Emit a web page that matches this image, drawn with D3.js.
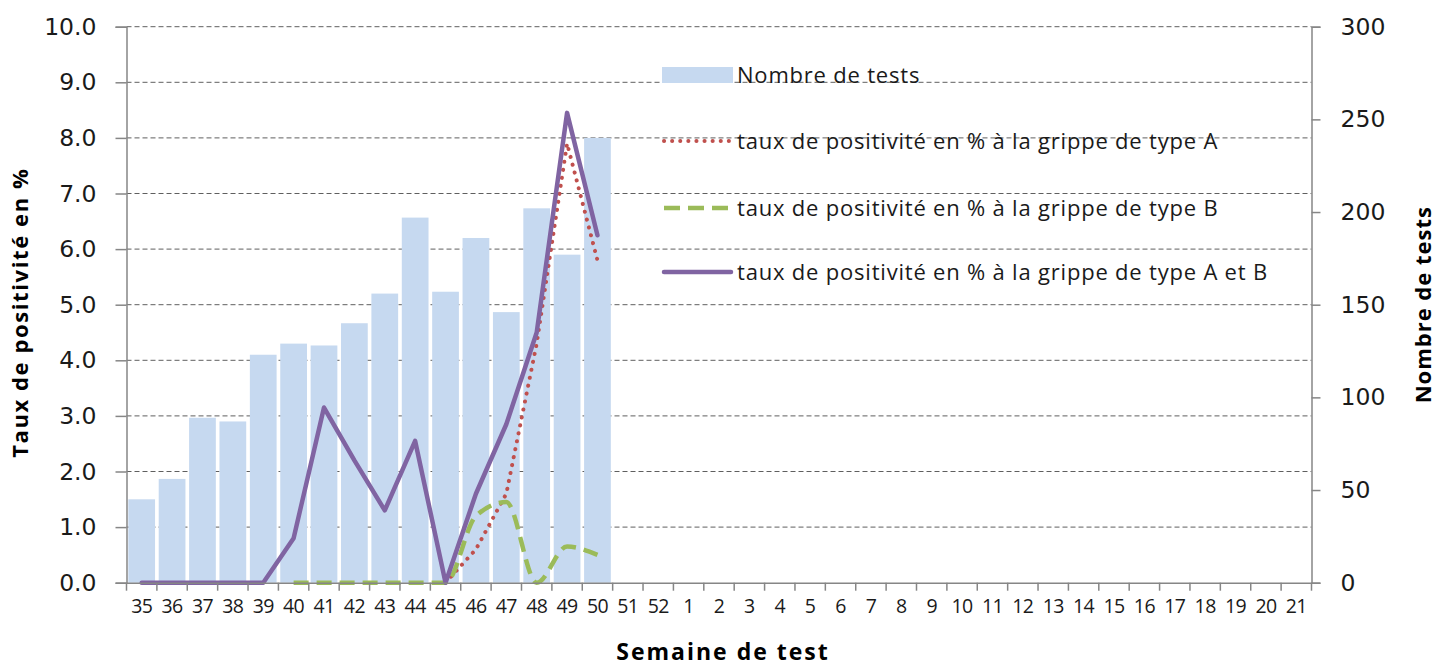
<!DOCTYPE html>
<html>
<head>
<meta charset="utf-8">
<script src="https://cdn.jsdelivr.net/npm/d3@7"></script>
<style>
  html, body { margin: 0; padding: 0; background: #fff; }
  svg { display: block; }
</style>
</head>
<body>
<svg id="chart" width="1442" height="667"></svg>
<script>
// ---- data ----
const weeks = ["35","36","37","38","39","40","41","42","43","44","45","46","47","48","49","50","51","52",
  "1","2","3","4","5","6","7","8","9","10","11","12","13","14","15","16","17","18","19","20","21"];
const nombreTests = [45, 56, 89, 87, 123, 129, 128, 140, 156, 197, 157, 186, 146, 202, 177, 240];
const tauxA  = [null, null, null, null, null, null, null, null, null, null, 0, 0.6, 1.6, 4.3, 7.9, 5.8];
const tauxB  = [null, null, null, null, null, 0, 0, 0, 0, 0, 0, 1.2, 1.45, 0, 0.65, 0.5];
const tauxAB = [0, 0, 0, 0, 0, 0.8, 3.15, 2.2, 1.3, 2.55, 0, 1.6, 2.85, 4.5, 8.45, 6.25];
const leftTicks = [0,1,2,3,4,5,6,7,8,9,10];
const rightTicks = [0,50,100,150,200,250,300];
const legendLabels = [
  "Nombre de tests",
  "taux de positivité en % à la grippe de type A",
  "taux de positivité en % à la grippe de type B",
  "taux de positivité en % à la grippe de type A et B"
];

// ---- layout ----
const svg = d3.select("#chart");
const X0 = 126.5, X1 = 1311.5, Y0 = 582.7, Y1 = 26.7;
const colBar = "#c6d9f0", colA = "#c0504d", colB = "#9bbb59", colAB = "#8064a2";
const axisCol = "#868686";
const font = "'Open Sans'";

const x = d3.scaleBand().domain(weeks).range([X0, X1]).paddingInner(0.12).paddingOuter(0.06);
const step = (X1 - X0) / weeks.length;
const xc = d => x(d) + x.bandwidth() / 2;
const yL = d3.scaleLinear().domain([0, 10]).range([Y0, Y1]);
const yR = d3.scaleLinear().domain([0, 300]).range([Y0, Y1]);

// gridlines
svg.append("g").selectAll("line").data(leftTicks.filter(t => t > 0)).join("line")
  .attr("x1", X0).attr("x2", X1)
  .attr("y1", d => yL(d)).attr("y2", d => yL(d))
  .attr("stroke", "#5f5f5f").attr("stroke-width", 1).attr("stroke-dasharray", "5,3");

// bars
svg.append("g").selectAll("rect").data(nombreTests.map((v, i) => ({w: weeks[i], v})).filter(d => d.v != null)).join("rect")
  .attr("x", d => x(d.w)).attr("width", x.bandwidth())
  .attr("y", d => yR(d.v)).attr("height", d => Y0 - yR(d.v))
  .attr("fill", colBar);

// lines
function drawLine(vals, color, width, dash, curve, cap) {
  const pts = vals.map((v, i) => ({w: weeks[i], v}));
  const line = d3.line().defined(d => d.v != null).x(d => xc(d.w)).y(d => yL(d.v)).curve(curve);
  svg.append("path").attr("d", line(pts))
    .attr("fill", "none").attr("stroke", color).attr("stroke-width", width)
    .attr("stroke-dasharray", dash).attr("stroke-linecap", cap).attr("stroke-linejoin", "round");
}
drawLine(tauxA, colA, 4, "0.1,8", d3.curveLinear, "round");
drawLine(tauxB, colB, 4.5, "15,8", d3.curveMonotoneX, "butt");
drawLine(tauxAB, colAB, 4.5, null, d3.curveLinear, "round");

// axes
const gL = svg.append("g").attr("transform", `translate(${X0},0)`)
  .call(d3.axisLeft(yL).tickValues(leftTicks).tickFormat(d3.format(".1f")).tickSize(11).tickPadding(19));
const gR = svg.append("g").attr("transform", `translate(${X1},0)`)
  .call(d3.axisRight(yR).tickValues(rightTicks).tickSize(9).tickPadding(20));
const gB = svg.append("g").attr("transform", `translate(0,${Y0})`)
  .call(d3.axisBottom(x).tickSize(0).tickPadding(16));
[gL, gR, gB].forEach(g => {
  g.select(".domain").attr("stroke", axisCol).attr("stroke-width", 1.5);
  g.selectAll(".tick line").attr("stroke", axisCol).attr("stroke-width", 1.5);
});
gL.selectAll("text").attr("font-family", "DejaVu Sans").attr("font-size", 23.5).attr("fill", "#1a1a1a");
gR.selectAll("text").attr("font-family", "DejaVu Sans").attr("font-size", 23.5).attr("fill", "#1a1a1a");
gB.selectAll("text").attr("font-family", font).attr("font-size", 19.5).attr("letter-spacing", -0.6).attr("fill", "#1a1a1a");
// category-boundary ticks on bottom axis
svg.append("g").selectAll("line").data(d3.range(weeks.length + 1)).join("line")
  .attr("x1", i => X0 + i * step).attr("x2", i => X0 + i * step)
  .attr("y1", Y0).attr("y2", Y0 + 8)
  .attr("stroke", axisCol).attr("stroke-width", 1.5);

// axis titles
svg.append("text").attr("transform", `translate(28,${(Y0 + Y1) / 2 + 8}) rotate(-90)`)
  .attr("text-anchor", "middle").attr("font-family", font).attr("font-weight", "bold")
  .attr("font-size", 22).attr("letter-spacing", 1.6).text("Taux de positivité en %");
svg.append("text").attr("transform", `translate(1431,${(Y0 + Y1) / 2}) rotate(-90)`)
  .attr("text-anchor", "middle").attr("font-family", font).attr("font-weight", "bold")
  .attr("font-size", 22).attr("letter-spacing", 1).text("Nombre de tests");
svg.append("text").attr("x", 723).attr("y", 660)
  .attr("text-anchor", "middle").attr("font-family", font).attr("font-weight", "bold")
  .attr("font-size", 23).attr("letter-spacing", 2).text("Semaine de test");

// legend
const legY = [75, 141, 208, 272];
const lg = svg.append("g");
lg.append("rect").attr("x", 662).attr("y", legY[0] - 8).attr("width", 71).attr("height", 16).attr("fill", colBar);
const legStyles = [null,
  {c: colA, w: 4, d: "0.1,8", cap: "round"},
  {c: colB, w: 4.5, d: "16,8", cap: "butt"},
  {c: colAB, w: 4.5, d: null, cap: "round"}];
legStyles.forEach((s, i) => {
  if (!s) return;
  lg.append("line").attr("x1", 664).attr("x2", 731).attr("y1", legY[i]).attr("y2", legY[i])
    .attr("stroke", s.c).attr("stroke-width", s.w).attr("stroke-dasharray", s.d).attr("stroke-linecap", s.cap);
});
lg.selectAll("text.leg").data(legendLabels).join("text").attr("class", "leg")
  .attr("x", 737).attr("y", (d, i) => legY[i]).attr("dy", "0.35em")
  .attr("font-family", font).attr("font-size", 22).attr("letter-spacing", 0.8).attr("fill", "#1a1a1a").text(d => d);
</script>
</body>
</html>
